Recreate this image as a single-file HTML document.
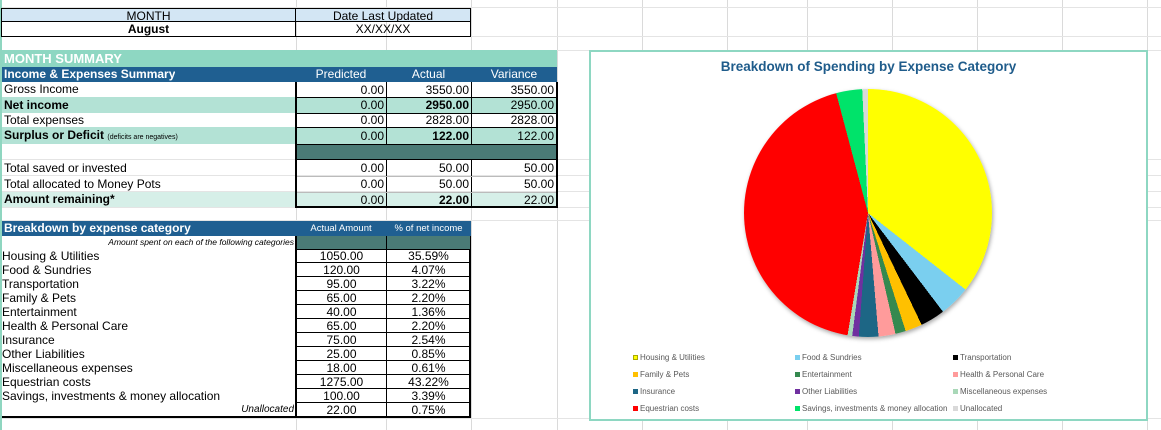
<!DOCTYPE html>
<html><head><meta charset="utf-8"><style>
*{margin:0;padding:0;box-sizing:border-box}
body{width:1161px;height:430px;position:relative;overflow:hidden;background:#fff;font-family:"Liberation Sans",sans-serif;color:#000}
.a{position:absolute;white-space:nowrap;overflow:hidden}
.vl{position:absolute;top:0;height:430px;width:1px;background:#dadada}
.hl{position:absolute;left:0;width:1161px;height:1px;background:#e4e4e4}
.t{font-size:12px;line-height:14px}
.r{text-align:right;padding-right:2px}
.c{text-align:center}
.b{font-weight:bold}
.sw{display:inline-block;width:5px;height:5px;margin-right:2px;vertical-align:0px}
.lg{position:absolute;font-size:8px;color:#595959;white-space:nowrap}
</style></head><body>
<div class="vl" style="left:296px"></div><div class="vl" style="left:386px"></div><div class="vl" style="left:471px"></div><div class="vl" style="left:557px"></div><div class="vl" style="left:642px"></div><div class="vl" style="left:727px"></div><div class="vl" style="left:807px"></div><div class="vl" style="left:892px"></div><div class="vl" style="left:977px"></div><div class="vl" style="left:1062px"></div><div class="vl" style="left:1147px"></div>
<div class="hl" style="top:7px"></div><div class="hl" style="top:36px"></div><div class="hl" style="top:50px"></div><div class="hl" style="top:159px"></div><div class="hl" style="top:175px"></div><div class="hl" style="top:191px"></div><div class="hl" style="top:207px"></div><div class="hl" style="top:220px"></div>
<div class="hl" style="top:418px"></div>
<div class="a" style="left:0;top:0;width:2px;height:430px;background:#8fd6c0"></div>

<div class="a t c" style="left:1px;top:8px;width:295px;height:14px;background:#d3e6f4;border:1px solid #000">MONTH</div>
<div class="a t c" style="left:296px;top:8px;width:175px;height:14px;background:#d3e6f4;border:1px solid #000;border-left:none">Date Last Updated</div>
<div class="a t c b" style="left:1px;top:22px;width:295px;height:15px;border:1px solid #000;border-top:none">August</div>
<div class="a t c" style="left:296px;top:22px;width:175px;height:15px;border:1px solid #000;border-top:none;border-left:none">XX/XX/XX</div>

<div class="a b" style="left:2px;top:50px;width:555px;height:17px;background:#8ed7c2;color:#fff;font-size:13px;line-height:18px;padding-left:2px">MONTH SUMMARY</div>
<div class="a" style="left:2px;top:67px;width:555px;height:15px;background:#1f5f91;color:#fff;font-size:12px;line-height:15px">
 <span class="a b" style="left:2px">Income &amp; Expenses Summary</span>
 <span class="a c" style="left:294px;width:90px">Predicted</span>
 <span class="a c" style="left:384px;width:85px">Actual</span>
 <span class="a c" style="left:469px;width:86px">Variance</span></div>

<div class="a t" style="left:2px;top:82px;width:294px;height:15px;padding-left:2px;line-height:15px">Gross Income</div>
<div class="a t b" style="left:2px;top:97px;width:294px;height:16px;padding-left:2px;background:#b3e2d5;line-height:16px">Net income</div>
<div class="a t" style="left:2px;top:113px;width:294px;height:14px;padding-left:2px">Total expenses</div>
<div class="a t" style="left:2px;top:127px;width:294px;height:17px;padding-left:2px;background:#b3e2d5;line-height:17px"><b>Surplus or Deficit</b> <span style="font-size:7px">(deficits are negatives)</span></div>
<div class="a t" style="left:2px;top:160px;width:294px;height:16px;padding-left:2px;line-height:16px">Total saved or invested</div>
<div class="a t" style="left:2px;top:176px;width:294px;height:16px;padding-left:2px;line-height:16px">Total allocated to Money Pots</div>
<div class="a t b" style="left:2px;top:192px;width:294px;height:15px;padding-left:2px;background:#d6efe8;line-height:15px">Amount remaining*</div>

<div class="a" style="left:295px;top:82px;width:263px;height:126px;border:2px solid #000;border-top:none"></div>
<div class="a" style="left:297px;top:97px;width:259px;height:16px;background:#b3e2d5"></div>
<div class="a" style="left:297px;top:127px;width:259px;height:17px;background:#b3e2d5"></div>
<div class="a" style="left:297px;top:144px;width:259px;height:16px;background:#4a7b76;border-top:1px solid #000;border-bottom:1px solid #000"></div>
<div class="a" style="left:297px;top:192px;width:259px;height:14px;background:#d6efe8"></div>
<div class="a" style="left:386px;top:82px;width:1px;height:62px;background:#000"></div>
<div class="a" style="left:471px;top:82px;width:1px;height:62px;background:#000"></div>
<div class="a" style="left:386px;top:160px;width:1px;height:47px;background:#000"></div>
<div class="a" style="left:471px;top:160px;width:1px;height:47px;background:#000"></div>
<div class="a" style="left:297px;top:97px;width:259px;height:1px;background:#000"></div>
<div class="a" style="left:297px;top:113px;width:259px;height:1px;background:#000"></div>
<div class="a" style="left:297px;top:127px;width:259px;height:1px;background:#000"></div>
<div class="a" style="left:297px;top:176px;width:259px;height:1px;background:#bbb"></div>
<div class="a" style="left:297px;top:192px;width:259px;height:1px;background:#bbb"></div>

<div class="a t r" style="left:297px;top:83px;width:89px">0.00</div><div class="a t r" style="left:387px;top:83px;width:84px">3550.00</div><div class="a t r" style="left:472px;top:83px;width:84px">3550.00</div>
<div class="a t r" style="left:297px;top:98px;width:89px">0.00</div><div class="a t r b" style="left:387px;top:98px;width:84px">2950.00</div><div class="a t r" style="left:472px;top:98px;width:84px">2950.00</div>
<div class="a t r" style="left:297px;top:113px;width:89px">0.00</div><div class="a t r" style="left:387px;top:113px;width:84px">2828.00</div><div class="a t r" style="left:472px;top:113px;width:84px">2828.00</div>
<div class="a t r" style="left:297px;top:129px;width:89px">0.00</div><div class="a t r b" style="left:387px;top:129px;width:84px">122.00</div><div class="a t r" style="left:472px;top:129px;width:84px">122.00</div>
<div class="a t r" style="left:297px;top:161px;width:89px">0.00</div><div class="a t r" style="left:387px;top:161px;width:84px">50.00</div><div class="a t r" style="left:472px;top:161px;width:84px">50.00</div>
<div class="a t r" style="left:297px;top:177px;width:89px">0.00</div><div class="a t r" style="left:387px;top:177px;width:84px">50.00</div><div class="a t r" style="left:472px;top:177px;width:84px">50.00</div>
<div class="a t r" style="left:297px;top:193px;width:89px">0.00</div><div class="a t r b" style="left:387px;top:193px;width:84px">22.00</div><div class="a t r" style="left:472px;top:193px;width:84px">22.00</div>

<div class="a" style="left:2px;top:221px;width:469px;height:15px;background:#1f5f91;color:#fff;line-height:15px">
 <span class="a b" style="left:2px;font-size:12px">Breakdown by expense category</span>
 <span class="a c" style="left:294px;width:90px;font-size:9.5px">Actual Amount</span>
 <span class="a c" style="left:384px;width:85px;font-size:9.5px">% of net income</span></div>
<div class="a" style="left:2px;top:236px;width:292px;height:13px;font-size:8.5px;font-style:italic;text-align:right;line-height:13px">Amount spent on each of the following categories</div>
<div class="a" style="left:295px;top:236px;width:176px;height:182px;border:2px solid #000;border-top:none"></div>
<div class="a" style="left:297px;top:236px;width:173px;height:13px;background:#4a7b76"></div>
<div class="a" style="left:386px;top:236px;width:1px;height:180px;background:#000"></div>
<div class="a" style="left:2px;top:416px;width:469px;height:2px;background:#000"></div>
<div class="a" style="left:297px;top:249px;width:173px;height:1px;background:#000"></div>
<div class="a" style="left:2px;top:249px;width:292px">
<div class="t" style="height:14px">Housing &amp; Utilities</div>
<div class="t" style="height:14px">Food &amp; Sundries</div>
<div class="t" style="height:14px">Transportation</div>
<div class="t" style="height:14px">Family &amp; Pets</div>
<div class="t" style="height:14px">Entertainment</div>
<div class="t" style="height:14px">Health &amp; Personal Care</div>
<div class="t" style="height:14px">Insurance</div>
<div class="t" style="height:14px">Other Liabilities</div>
<div class="t" style="height:14px">Miscellaneous expenses</div>
<div class="t" style="height:14px">Equestrian costs</div>
<div class="t" style="height:14px">Savings, investments &amp; money allocation</div>
<div class="t" style="height:14px;text-align:right;font-style:italic;font-size:10px">Unallocated</div>
</div>
<div class="a" style="left:297px;top:249px;width:89px">
<div class="t c" style="height:14px;border-bottom:1px solid #000">1050.00</div><div class="t c" style="height:14px;border-bottom:1px solid #000">120.00</div><div class="t c" style="height:14px;border-bottom:1px solid #000">95.00</div><div class="t c" style="height:14px;border-bottom:1px solid #000">65.00</div><div class="t c" style="height:14px;border-bottom:1px solid #000">40.00</div><div class="t c" style="height:14px;border-bottom:1px solid #000">65.00</div><div class="t c" style="height:14px;border-bottom:1px solid #000">75.00</div><div class="t c" style="height:14px;border-bottom:1px solid #000">25.00</div><div class="t c" style="height:14px;border-bottom:1px solid #000">18.00</div><div class="t c" style="height:14px;border-bottom:1px solid #000">1275.00</div><div class="t c" style="height:14px;border-bottom:1px solid #000">100.00</div><div class="t c" style="height:14px">22.00</div>
</div>
<div class="a" style="left:387px;top:249px;width:83px">
<div class="t c" style="height:14px;border-bottom:1px solid #000">35.59%</div><div class="t c" style="height:14px;border-bottom:1px solid #000">4.07%</div><div class="t c" style="height:14px;border-bottom:1px solid #000">3.22%</div><div class="t c" style="height:14px;border-bottom:1px solid #000">2.20%</div><div class="t c" style="height:14px;border-bottom:1px solid #000">1.36%</div><div class="t c" style="height:14px;border-bottom:1px solid #000">2.20%</div><div class="t c" style="height:14px;border-bottom:1px solid #000">2.54%</div><div class="t c" style="height:14px;border-bottom:1px solid #000">0.85%</div><div class="t c" style="height:14px;border-bottom:1px solid #000">0.61%</div><div class="t c" style="height:14px;border-bottom:1px solid #000">43.22%</div><div class="t c" style="height:14px;border-bottom:1px solid #000">3.39%</div><div class="t c" style="height:14px">0.75%</div>
</div>

<div class="a" style="left:589px;top:50px;width:559px;height:371px;background:#fff;border:2px solid #8ed7c2"></div>
<div class="a b c" style="left:589px;top:59px;width:559px;font-size:13.5px;color:#1f5c8b">Breakdown of Spending by Expense Category</div>
<div class="a" style="left:744px;top:89px;width:248px;height:248px;border-radius:50%;box-shadow:1px 2px 4px rgba(0,0,0,0.35);background:conic-gradient(#ffff00 0 35.593%,#7acfef 0 39.661%,#000 0 42.881%,#ffc000 0 45.085%,#35894f 0 46.441%,#ff9b9b 0 48.644%,#1d6685 0 51.186%,#7030a0 0 52.034%,#a9d8b8 0 52.644%,#ff0000 0 95.864%,#00e36a 0 99.254%,#d9d9d9 0 100%)"></div>

<div class="lg" style="left:633px;top:353px"><span class="sw" style="background:#ffff00;border:1px solid #aa0"></span>Housing &amp; Utilities</div>
<div class="lg" style="left:795px;top:353px"><span class="sw" style="background:#7acfef"></span>Food &amp; Sundries</div>
<div class="lg" style="left:953px;top:353px"><span class="sw" style="background:#000"></span>Transportation</div>
<div class="lg" style="left:633px;top:370px"><span class="sw" style="background:#ffc000"></span>Family &amp; Pets</div>
<div class="lg" style="left:795px;top:370px"><span class="sw" style="background:#35894f"></span>Entertainment</div>
<div class="lg" style="left:953px;top:370px"><span class="sw" style="background:#ff9b9b"></span>Health &amp; Personal Care</div>
<div class="lg" style="left:633px;top:387px"><span class="sw" style="background:#1d6685"></span>Insurance</div>
<div class="lg" style="left:795px;top:387px"><span class="sw" style="background:#7030a0"></span>Other Liabilities</div>
<div class="lg" style="left:953px;top:387px"><span class="sw" style="background:#a9d8b8"></span>Miscellaneous expenses</div>
<div class="lg" style="left:633px;top:404px"><span class="sw" style="background:#ff0000"></span>Equestrian costs</div>
<div class="lg" style="left:795px;top:404px"><span class="sw" style="background:#00e36a"></span>Savings, investments &amp; money allocation</div>
<div class="lg" style="left:953px;top:404px"><span class="sw" style="background:#d9d9d9"></span>Unallocated</div>
</body></html>
